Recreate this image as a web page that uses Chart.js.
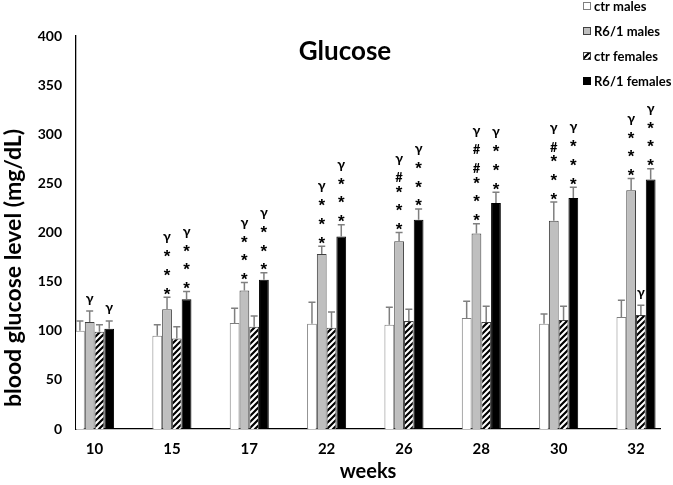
<!DOCTYPE html>
<html>
<head>
<meta charset="utf-8">
<script src="https://cdn.jsdelivr.net/npm/chart.js@4.4.1/dist/chart.umd.min.js"></script>
<style>
  html, body { margin: 0; padding: 0; background: #fff; }
</style>
</head>
<body>
<canvas id="glucoseChart" width="673" height="485"></canvas>
<script>
const weeks = ['10', '15', '17', '22', '26', '28', '30', '32'];
const seriesNames = ['ctr males', 'R6/1 males', 'ctr females', 'R6/1 females'];
const yTicks = [0, 50, 100, 150, 200, 250, 300, 350, 400];

// mean blood glucose (mg/dL)
const ctrMales = [100, 95, 108, 107, 106, 113, 107, 114];
const r61Males = [109, 122, 141, 178, 191, 199, 212, 243];
const ctrFemales = [99, 92, 104, 103, 110, 109, 111, 116];
const r61Females = [102, 132, 152, 196, 213, 230, 235, 254];

// upper error bars
const ctrMalesErr = [10, 11, 15, 22, 18, 17, 10, 17];
const r61MalesErr = [11, 12, 8, 8, 9, 10, 19, 12];
const ctrFemalesErr = [7, 12, 11, 16, 12, 16, 14, 10];
const r61FemalesErr = [8, 8, 7, 12, 11, 11, 11, 11];

// significance marks, read bottom to top
const ctrMalesMarks = ['', '', '', '', '', '', '', ''];
const r61MalesMarks = ['γ', '***γ', '***γ', '***γ', '***#γ', '***##γ', '***#γ', '***γ'];
const ctrFemalesMarks = ['', '', '', '', '', '', '', 'γ'];
const r61FemalesMarks = ['γ', '***γ', '***γ', '***γ', '***γ', '***γ', '***γ', '***γ'];

const FONT = 'Lato, "Noto Sans", "DejaVu Sans", sans-serif';

function makeHatch() {
    const c = document.createElement('canvas');
    c.width = 6; c.height = 6;
    const g = c.getContext('2d');
    g.fillStyle = '#fff';
    g.fillRect(0, 0, 6, 6);
    g.strokeStyle = '#000';
    g.lineWidth = 2.2;
    g.beginPath();
    g.moveTo(0, 6); g.lineTo(6, 0);
    g.moveTo(-1, 1); g.lineTo(1, -1);
    g.moveTo(5, 7); g.lineTo(7, 5);
    g.stroke();
    return g.createPattern(c, 'repeat');
}
const hatch = makeHatch();

const toPoints = (arr) => arr.map((v, i) => ({ x: i, y: v }));

const datasets = [
    { label: seriesNames[0], data: toPoints(ctrMales), err: ctrMalesErr, marks: ctrMalesMarks,
      backgroundColor: '#ffffff', borderColor: '#7f7f7f' },
    { label: seriesNames[1], data: toPoints(r61Males), err: r61MalesErr, marks: r61MalesMarks,
      backgroundColor: '#bfbfbf', borderColor: '#404040' },
    { label: seriesNames[2], data: toPoints(ctrFemales), err: ctrFemalesErr, marks: ctrFemalesMarks,
      backgroundColor: hatch, borderColor: '#404040' },
    { label: seriesNames[3], data: toPoints(r61Females), err: r61FemalesErr, marks: r61FemalesMarks,
      backgroundColor: '#000000', borderColor: '#000000' }
];
datasets.forEach(d => {
    d.borderWidth = 1;
    d.categoryPercentage = 0.505;
    d.barPercentage = 1;
});

// error bars (upper only)
const errorBars = {
    id: 'errorBars',
    afterDatasetsDraw(chart) {
        const ctx = chart.ctx;
        const y = chart.scales.y;
        ctx.save();
        ctx.strokeStyle = '#7f7f7f';
        ctx.lineWidth = 1.5;
        chart.data.datasets.forEach((ds, d) => {
            chart.getDatasetMeta(d).data.forEach((bar, i) => {
                const top = y.getPixelForValue(ds.data[i].y + ds.err[i]);
                ctx.beginPath();
                ctx.moveTo(bar.x, bar.y);
                ctx.lineTo(bar.x, top);
                ctx.moveTo(bar.x - 3.5, top);
                ctx.lineTo(bar.x + 3.5, top);
                ctx.stroke();
            });
        });
        ctx.restore();
    }
};

// significance symbols stacked over the error bars
const firstGap = { '*': 6, '#': 8, 'γ': 11 };
function stepGap(prev, cur) {
    if (prev === '*' && cur === '*') return 18.7;
    if (prev === '*' && cur === '#') return 12;
    if (prev === '#' && cur === '#') return 19;
    if (prev === '#' && cur === 'γ') return 17;
    return 15;
}
const markFonts = {
    '*': 'bold 17px "Liberation Sans", sans-serif',
    '#': 'bold 13px ' + FONT,
    'γ': 'bold 14px ' + FONT
};

const sigMarks = {
    id: 'sigMarks',
    afterDatasetsDraw(chart) {
        const ctx = chart.ctx;
        const y = chart.scales.y;
        ctx.save();
        ctx.fillStyle = '#000';
        ctx.textAlign = 'center';
        ctx.textBaseline = 'alphabetic';
        chart.data.datasets.forEach((ds, d) => {
            chart.getDatasetMeta(d).data.forEach((bar, i) => {
                const s = ds.marks[i];
                if (!s) return;
                let cy = y.getPixelForValue(ds.data[i].y + ds.err[i]);
                let prev = null;
                for (const ch of s) {
                    cy -= prev ? stepGap(prev, ch) : firstGap[ch];
                    ctx.font = markFonts[ch];
                    const m = ctx.measureText(ch);
                    const base = cy + (m.actualBoundingBoxAscent - m.actualBoundingBoxDescent) / 2;
                    ctx.fillText(ch, bar.x, base);
                    prev = ch;
                }
            });
        });
        ctx.restore();
    }
};

// title, y title and legend drawn over the plot like the original
const overlay = {
    id: 'overlay',
    afterDraw(chart) {
        const ctx = chart.ctx;
        ctx.save();
        ctx.fillStyle = '#000';
        ctx.textAlign = 'center';
        ctx.textBaseline = 'middle';
        ctx.font = 'bold 26px ' + FONT;
        ctx.fillText('Glucose', 345, 52);

        ctx.translate(14, 268);
        ctx.rotate(-Math.PI / 2);
        ctx.font = 'bold 23px ' + FONT;
        ctx.fillText('blood glucose level (mg/dL)', 0, 0);
        ctx.restore();

        ctx.save();
        ctx.font = 'bold 13px ' + FONT;
        ctx.textAlign = 'left';
        ctx.textBaseline = 'middle';
        chart.data.datasets.forEach((ds, d) => {
            const cy = 6 + d * 25;
            ctx.fillStyle = ds.backgroundColor;
            ctx.fillRect(583, cy - 4, 8, 8);
            ctx.strokeStyle = ds.borderColor;
            ctx.lineWidth = 1;
            ctx.strokeRect(583.5, cy - 3.5, 7, 7);
            ctx.fillStyle = '#000';
            ctx.fillText(ds.label, 594, cy + 1);
        });
        ctx.restore();
    }
};

new Chart(document.getElementById('glucoseChart').getContext('2d'), {
    type: 'bar',
    data: { datasets: datasets },
    options: {
        responsive: false,
        animation: false,
        layout: { padding: { left: 0, top: 36, right: 13, bottom: 0 } },
        plugins: {
            legend: { display: false },
            title: { display: false },
            tooltip: { enabled: false }
        },
        scales: {
            x: {
                type: 'linear',
                bounds: 'data',
                offset: false,
                min: -0.24,
                max: 7.31,
                grid: { display: false, drawTicks: false },
                border: { display: true, color: '#000', width: 1.3 },
                afterBuildTicks: (s) => { s.ticks = weeks.map((w, i) => ({ value: i })); },
                afterFit: (s) => { s.height = 56; },
                ticks: {
                    autoSkip: false,
                    maxRotation: 0,
                    padding: 11,
                    color: '#000',
                    font: { family: FONT, size: 15, weight: 'bold' },
                    callback: (v) => weeks[v]
                },
                title: {
                    display: true,
                    text: 'weeks',
                    color: '#000',
                    font: { family: FONT, size: 20, weight: 'bold' },
                    padding: { top: 0, bottom: 1 }
                }
            },
            y: {
                bounds: 'data',
                min: 0,
                max: 400,
                grid: { display: false, drawTicks: false },
                border: { display: true, color: '#000', width: 1.3 },
                afterBuildTicks: (s) => { s.ticks = yTicks.map(v => ({ value: v })); },
                afterFit: (s) => { s.width = 76; },
                ticks: {
                    padding: 14,
                    color: '#000',
                    font: { family: FONT, size: 14, weight: 'bold' }
                }
            }
        }
    },
    plugins: [errorBars, sigMarks, overlay]
});
</script>
</body>
</html>
